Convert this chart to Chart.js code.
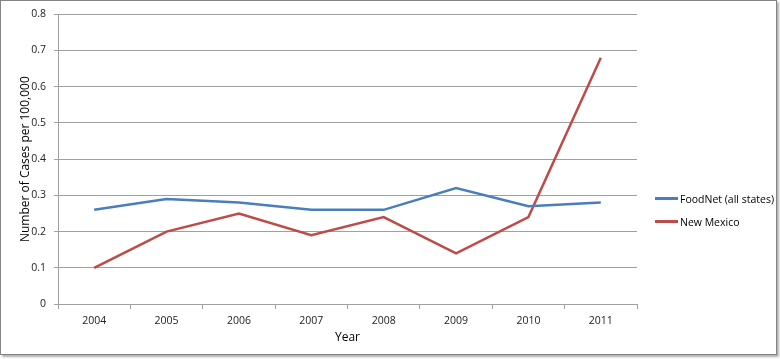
<!DOCTYPE html>
<html>
<head>
<meta charset="utf-8">
<script src="https://cdn.jsdelivr.net/npm/chart.js@4/dist/chart.umd.min.js"></script>
<style>
  html, body { margin: 0; padding: 0; background: #fff; }
  #wrap { position: relative; width: 780px; height: 359px; overflow: hidden; }
  #c { position: absolute; left: 0; top: 0; }
  #frame { position: absolute; left: 0; top: 0; width: 775px; height: 353px;
           border: 1px solid #858585; box-shadow: 2px 2px 2px #b0b0b0; pointer-events: none; }
  #legend { position: absolute; left: 655px; top: 187px; font-family: "Open Sans", "Liberation Sans", sans-serif;
            font-size: 10.5px; color: #000; }
  .item { display: flex; align-items: center; height: 23px; }
  .sw { width: 23px; height: 3px; margin-right: 2px; }
</style>
</head>
<body>
<div id="wrap">
  <canvas id="c" width="780" height="359"></canvas>
  <div id="frame"></div>
  <div id="legend"></div>
</div>
<script>
const years = ["2004", "2005", "2006", "2007", "2008", "2009", "2010", "2011"];
const foodNet = [0.26, 0.29, 0.28, 0.26, 0.26, 0.32, 0.27, 0.28];
const newMexico = [0.10, 0.20, 0.25, 0.19, 0.24, 0.14, 0.24, 0.68];
const seriesNames = ["FoodNet (all states)", "New Mexico"];
const colors = ["#4a7ebb", "#be4b48"];
const font = { family: "'Open Sans', 'Liberation Sans', sans-serif", size: 10.5 };

const chart = new Chart(document.getElementById('c'), {
  type: 'line',
  data: {
    labels: years,
    datasets: [
      { label: seriesNames[0], data: foodNet, borderColor: colors[0], borderWidth: 2.5, pointRadius: 0, tension: 0 },
      { label: seriesNames[1], data: newMexico, borderColor: colors[1], borderWidth: 2.5, pointRadius: 0, tension: 0 }
    ]
  },
  options: {
    responsive: false,
    animation: false,
    layout: { padding: { left: 14, right: 143, top: 12, bottom: 10 } },
    plugins: { legend: { display: false }, tooltip: { enabled: false } },
    scales: {
      x: {
        offset: true,
        grid: { offset: true, drawOnChartArea: false, drawTicks: true, tickLength: 5, color: '#a0a0a0' },
        border: { color: '#a0a0a0', width: 1 },
        ticks: { color: '#222', font: font, padding: 6, maxRotation: 0 },
        title: { display: true, text: 'Year', color: '#000', font: { family: font.family, size: 12 }, padding: { top: 2, bottom: 4 } },
        afterFit: (s) => { s.height = 45; }
      },
      y: {
        min: 0, max: 0.8,
        ticks: { stepSize: 0.1, color: '#222', font: font, padding: 8,
                 callback: (v) => (Math.round(v * 10) / 10).toString() },
        grid: { color: '#a0a0a0', drawTicks: true, tickLength: 4 },
        border: { color: '#a0a0a0', width: 1 },
        title: { display: true, text: 'Number of Cases per 100,000', color: '#000', font: { family: font.family, size: 12 }, padding: { top: 4, bottom: 0 } },
        afterFit: (s) => { s.width = 44; }
      }
    }
  }
});

const leg = document.getElementById('legend');
chart.data.datasets.forEach((d) => {
  const it = document.createElement('div');
  it.className = 'item';
  const sw = document.createElement('div');
  sw.className = 'sw';
  sw.style.background = d.borderColor;
  const tx = document.createElement('span');
  tx.textContent = d.label;
  it.appendChild(sw); it.appendChild(tx);
  leg.appendChild(it);
});
</script>
</body>
</html>
